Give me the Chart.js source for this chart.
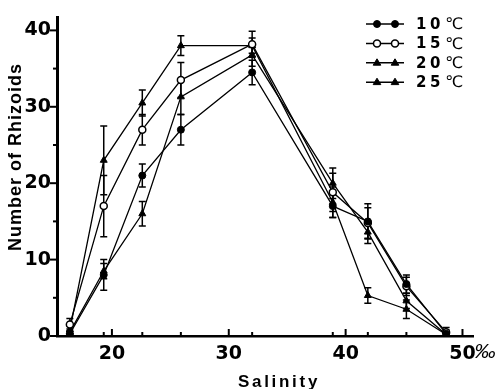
<!DOCTYPE html>
<html>
<head>
<meta charset="utf-8">
<script src="https://cdn.jsdelivr.net/npm/chart.js@4/dist/chart.umd.min.js"></script>
<style>
  html, body { margin: 0; padding: 0; background: #fff; }
  #wrap { width: 498px; height: 389px; position: relative; }
</style>
</head>
<body>
<div id="wrap"><canvas id="rhizoidChart"></canvas></div>
<script>
// salinity (‰) of each sample
const salinity = [16.4, 19.3, 22.6, 25.9, 32.0, 38.9, 41.9, 45.2, 48.6];

// number of rhizoids, mean and error per temperature
const rh10 = [0.3, 8.0, 21.0, 27.0, 34.5, 17.0, 15.0, 6.8, 0.3];
const sd10 = [0.3, 2.0, 1.5, 2.0, 1.6, 1.5, 2.3, 1.2, 0.5];
const rh15 = [1.5, 17.0, 27.0, 33.5, 38.2, 18.8, 14.8, 6.5, 0.5];
const sd15 = [0.8, 4.0, 2.0, 2.3, 1.7, 2.5, 2.0, 1.2, 0.6];
const rh20 = [0.5, 8.5, 16.0, 31.3, 36.8, 20.0, 13.6, 4.6, 0.2];
const sd20 = [0.4, 1.0, 1.6, 2.3, 1.5, 2.0, 1.5, 1.0, 0.4];
const rh25 = [0.8, 23.0, 30.5, 38.0, 38.0, 17.5, 5.3, 3.5, 0.2];
const sd25 = [0.5, 4.5, 1.7, 1.3, 1.0, 2.0, 1.0, 1.2, 0.4];

const seriesLabels = ['10', '15', '20', '25'];
const xTicks = [20, 30, 40, 50];
const yTicks = [0, 10, 20, 30, 40];
const yMinor = [5, 15, 25, 35];

function series(label, ys, errs, style, fill) {
  return {
    label: label,
    data: salinity.map((x, i) => ({ x: x, y: ys[i] })),
    _err: errs,
    showLine: true,
    borderColor: '#000',
    borderWidth: 1.3,
    pointStyle: style,
    pointRadius: style === 'triangle' ? 4 : 3.5,
    pointBackgroundColor: fill,
    pointBorderColor: '#000',
    pointBorderWidth: style === 'circle' && fill === '#fff' ? 1.5 : 1,
    tension: 0,
  };
}

const datasets = [
  series('10', rh10, sd10, 'circle', '#000'),
  series('15', rh15, sd15, 'circle', '#fff'),
  series('20', rh20, sd20, 'triangle', '#000'),
  series('25', rh25, sd25, 'triangle', '#000'),
];

// --- error bars, drawn under the points ---
const errorBars = {
  id: 'errorBars',
  beforeDatasetsDraw(chart) {
    const { ctx, scales: { x, y } } = chart;
    ctx.save();
    ctx.strokeStyle = '#000';
    ctx.lineWidth = 1.5;
    chart.data.datasets.forEach((ds) => {
      ds.data.forEach((p, i) => {
        const e = ds._err[i];
        const px = x.getPixelForValue(p.x);
        const yt = y.getPixelForValue(p.y + e);
        const yb = y.getPixelForValue(Math.max(0, p.y - e));
        ctx.beginPath();
        ctx.moveTo(px, yt); ctx.lineTo(px, yb);
        ctx.moveTo(px - 3.5, yt); ctx.lineTo(px + 3.5, yt);
        ctx.moveTo(px - 3.5, yb); ctx.lineTo(px + 3.5, yb);
        ctx.stroke();
      });
    });
    ctx.restore();
  },
};

// --- tick marks, titles, legend ---
const decorations = {
  id: 'decorations',
  afterDraw(chart) {
    const { ctx, chartArea: a, scales: { x, y } } = chart;
    ctx.save();
    ctx.strokeStyle = '#000';
    ctx.fillStyle = '#000';
    ctx.lineWidth = 2;

    // y ticks point outwards
    yTicks.concat(yMinor).forEach((v) => {
      const py = y.getPixelForValue(v);
      const len = yTicks.includes(v) ? 7 : 4;
      ctx.beginPath(); ctx.moveTo(a.left, py); ctx.lineTo(a.left - len, py); ctx.stroke();
    });
    // x ticks point inwards; minor ones at the sampled salinities
    xTicks.concat(salinity.slice(1)).forEach((v) => {
      const px = x.getPixelForValue(v);
      const len = xTicks.includes(v) ? 7 : 4;
      ctx.beginPath(); ctx.moveTo(px, a.bottom); ctx.lineTo(px, a.bottom - len); ctx.stroke();
    });

    // per mille sign after the 50 label
    ctx.font = "italic 21px 'Liberation Sans'";
    ctx.textAlign = 'left';
    ctx.textBaseline = 'alphabetic';
    ctx.fillText('‰', x.getPixelForValue(50) + 12, a.bottom + 22);

    // axis titles
    ctx.font = "bold 17px 'Liberation Sans'";
    ctx.letterSpacing = '2.7px';
    ctx.textAlign = 'center';
    ctx.fillText('Salinity', 279, 387);

    ctx.save();
    ctx.translate(21, 157);
    ctx.rotate(-Math.PI / 2);
    ctx.font = "bold 18px 'Liberation Sans'";
    ctx.letterSpacing = '1px';
    ctx.fillText('Number of Rhizoids', 0, 0);
    ctx.restore();

    // legend
    ctx.letterSpacing = '0px';
    chart.data.datasets.forEach((ds, i) => {
      const ly = 24 + i * 19.4;
      ctx.strokeStyle = '#000';
      ctx.lineWidth = 1.5;
      ctx.beginPath(); ctx.moveTo(366, ly); ctx.lineTo(404, ly); ctx.stroke();
      [377, 395].forEach((mx) => {
        ctx.fillStyle = ds.pointBackgroundColor;
        ctx.lineWidth = ds.pointBorderWidth;
        ctx.beginPath();
        if (ds.pointStyle === 'circle') {
          ctx.arc(mx, ly, ds.pointRadius, 0, Math.PI * 2);
        } else {
          const r = ds.pointRadius;
          ctx.moveTo(mx, ly - r);
          ctx.lineTo(mx + r * 0.95, ly + r * 0.6);
          ctx.lineTo(mx - r * 0.95, ly + r * 0.6);
          ctx.closePath();
        }
        ctx.fill(); ctx.stroke();
      });
      ctx.fillStyle = '#000';
      ctx.textAlign = 'left';
      ctx.textBaseline = 'middle';
      ctx.font = "bold 15px 'DejaVu Sans'";
      ctx.letterSpacing = '3.5px';
      ctx.fillText(seriesLabels[i], 416, ly + 1);
      ctx.letterSpacing = '0px';
      ctx.font = "16px 'DejaVu Sans'";
      ctx.fillText('℃', 445, ly + 1);
    });
    ctx.restore();
  },
};

new Chart(document.getElementById('rhizoidChart'), {
  type: 'scatter',
  data: { datasets: datasets },
  options: {
    responsive: true,
    maintainAspectRatio: false,
    animation: false,
    layout: { padding: { left: 0, top: 10, right: 25, bottom: 0 } },
    plugins: {
      legend: { display: false },
      tooltip: { enabled: false },
    },
    scales: {
      x: {
        type: 'linear',
        min: 15.3,
        max: 50.9,
        afterBuildTicks: (s) => { s.ticks = xTicks.map((v) => ({ value: v })); },
        afterFit: (s) => { s.height = 53; },
        grid: { display: false, drawTicks: false },
        border: { display: true, color: '#000', width: 2.5 },
        ticks: {
          color: '#000',
          padding: 7,
          maxRotation: 0,
          font: { family: 'DejaVu Sans', size: 19, weight: 'bold' },
        },
      },
      y: {
        min: 0,
        max: 41.7,
        afterBuildTicks: (s) => { s.ticks = yTicks.map((v) => ({ value: v })); },
        afterFit: (s) => { s.width = 57; },
        grid: { display: false, drawTicks: false },
        border: { display: true, color: '#000', width: 3 },
        ticks: {
          color: '#000',
          padding: 6,
          font: { family: 'DejaVu Sans', size: 19, weight: 'bold' },
        },
      },
    },
  },
  plugins: [errorBars, decorations],
});
</script>
</body>
</html>
